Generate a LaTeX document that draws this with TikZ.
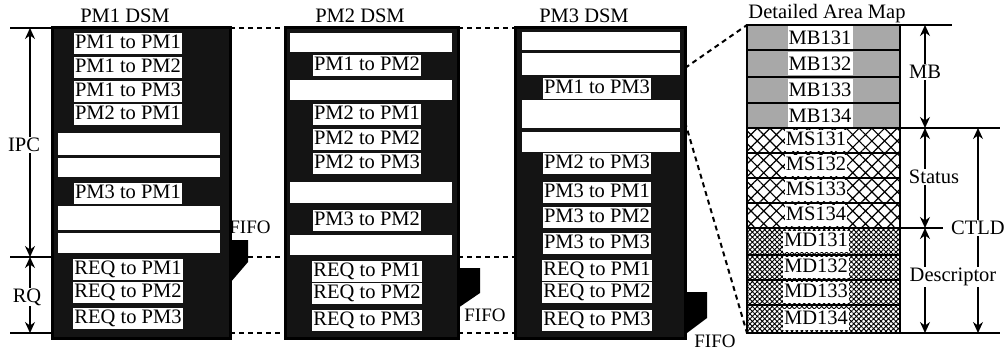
\documentclass[tikz,border=0pt]{standalone}
\usepackage{fontspec}
\setmainfont{Liberation Serif}
\usetikzlibrary{arrows.meta,patterns.meta}
\definecolor{ink}{HTML}{000000}
\definecolor{dsmdark}{HTML}{141414}
\definecolor{mbgray}{HTML}{A8A8A8}
\newcommand\dfont{\fontsize{20.5}{22}\selectfont}

\begin{document}
\begin{tikzpicture}[
  x=1pt, y=-1pt, font=\dfont,
  dsm/.style={draw=ink, line width=3pt, fill=dsmdark, inner sep=0pt, outer sep=0pt, minimum height=311pt},
  slot/.style={fill=white},
  entry/.style={fill=white, text=ink, inner sep=1pt, text height=14.5pt, text depth=4.5pt},
  mbentry/.style={fill=white, text=ink, inner sep=0pt, minimum width=65pt, minimum height=23pt},
  title/.style={anchor=base, text=ink},
  tab/.style={fill=ink},
  fifo/.style={text=ink, font=\fontsize{19}{21}\selectfont},
  gap/.style={draw=ink, dash pattern=on 5pt off 4pt, line width=1.3pt},
  zoomline/.style={draw=ink, dash pattern=on 5pt off 4pt, line width=2pt},
  ext/.style={draw=ink, line width=1.4pt},
  dim/.style={{Stealth[length=11pt,width=10pt]}-{Stealth[length=11pt,width=10pt]}, draw=ink, line width=1.4pt},
  dimlabel/.style={fill=white, text=ink, inner sep=1pt},
  rowline/.style={draw=ink, line width=1.8pt}
]
\useasboundingbox (0,0) rectangle (1007,351);

% DSM columns
\node[dsm, minimum width=178pt] (pm1) at (141,182.5) {};
\node[dsm, minimum width=173pt] (pm2) at (371.5,182.5) {};
\node[dsm, minimum width=170pt] (pm3) at (600,182.5) {};
\node[title] (t1) at (125,22) {PM1 DSM};
\node[title] (t2) at (360,22) {PM2 DSM};
\node[title] (t3) at (584,22) {PM3 DSM};

% empty slots
\foreach \a/\b in {133/155, 158/177, 206/230, 233/253}
  \fill[slot] (58,\a) rectangle (220,\b);
\foreach \a/\b in {33/52, 80/100, 182/203, 235/255}
  \fill[slot] (290,\a) rectangle (452,\b);
\foreach \a/\b in {32/50, 53/75, 100/128, 132/152}
  \fill[slot] (522,\a) rectangle (680,\b);

% queue entries
\foreach \y/\t [count=\i] in {43/PM1 to PM1, 67/PM1 to PM2, 91/PM1 to PM3, 114/PM2 to PM1,
    193/PM3 to PM1, 269/REQ to PM1, 292.5/REQ to PM2, 318/REQ to PM3}
  \node[entry] (p1r\i) at (128,\y) {\t};
\foreach \y/\t [count=\i] in {65/PM1 to PM2, 114/PM2 to PM1, 139/PM2 to PM2, 163/PM2 to PM3,
    220/PM3 to PM2, 271/REQ to PM1, 293/REQ to PM2, 320/REQ to PM3}
  \node[entry] (p2r\i) at (367,\y) {\t};
\foreach \y/\t [count=\i] in {88/PM1 to PM3, 163/PM2 to PM3, 192.5/PM3 to PM1, 217/PM3 to PM2,
    243/PM3 to PM3, 270/REQ to PM1, 292/REQ to PM2, 320/REQ to PM3}
  \node[entry] (p3r\i) at (597,\y) {\t};

% FIFO tabs
\fill[tab] (230,240) -- (248,240) -- (248,262) -- (230,283) -- cycle;
\fill[tab] (458,268) -- (480,268) -- (480,293) -- (458,308) -- cycle;
\fill[tab] (685,292) -- (707,292) -- (707,318) -- (687,333) -- cycle;
\node[fifo] (f1) at (250,227) {FIFO};
\node[fifo] (f2) at (485,315) {FIFO};
\node[fifo] (f3) at (715,341) {FIFO};

% IPC / RQ split
\coordinate (ipctop) at (10,28);
\coordinate (rqtop) at (10,257);
\coordinate (rqbot) at (10,333);
\foreach \c in {ipctop, rqtop, rqbot} {
  \draw[ext] (\c) -- (pm1.west |- \c);
  \draw[gap] (pm1.east |- \c) -- (pm2.west |- \c);
  \draw[gap] (pm2.east |- \c) -- (pm3.west |- \c);
}
\coordinate (ipca) at (30,28);
\coordinate (ipcb) at (30,257);
\coordinate (rqb) at (30,333);
\draw[dim] (ipca) -- (ipcb);
\draw[dim] (ipcb) -- (rqb);
\node[dimlabel] (ipc) at (24,145) {IPC};
\node[dimlabel] (rq) at (27,297) {RQ};

% detailed area map
\node[inner sep=0pt, outer sep=0pt, minimum width=153pt, minimum height=308pt] (map) at (823.5,179) {};
\node[title] (tmap) at (827,18) {Detailed Area Map};
\fill[mbgray] (747,25) rectangle (900,128);
\fill[pattern={Hatch[angle=45,distance=9pt,line width=1.2pt]}] (747,128) rectangle (900,228);
\fill[pattern={Hatch[angle=45,distance=3.5pt,line width=0.9pt]}] (747,228) rectangle (900,333);
\foreach \y in {50,77,103,128,153,178,203,228,255,280,305}
  \draw[rowline] (map.west |- 0,\y) -- (map.east |- 0,\y);
\foreach \y/\t [count=\i] in {37.5/MB131, 63.5/MB132, 90/MB133, 115.5/MB134}
  \node[mbentry] (mb\i) at (820,\y) {\t};
\foreach \y/\t [count=\i] in {140.5/MS131, 165.5/MS132, 190.5/MS133, 215.5/MS134}
  \node[entry] (ms\i) at (816,\y) {\t};
\foreach \y/\t [count=\i] in {241.5/MD131, 267.5/MD132, 292.5/MD133, 319/MD134}
  \node[entry] (md\i) at (816,\y) {\t};
\draw[draw=ink, line width=2.2pt] (map.north west) rectangle (map.south east);

% zoom lines
\coordinate (za) at (685,68);
\coordinate (zb) at (685,122);
\draw[zoomline] (za) -- (map.north west);
\draw[zoomline] (zb) -- (map.south west);

% map dimensions
\coordinate (mbtop) at (925,25);
\coordinate (mbbot) at (925,128);
\coordinate (stbot) at (925,228);
\coordinate (dsbot) at (925,333);
\coordinate (cttop) at (978,128);
\coordinate (ctbot) at (978,333);
\draw[ext] (map.north east) -- (952,25);
\draw[ext] (map.east |- mbbot) -- (1000,128);
\draw[ext] (map.east |- stbot) -- (943,228);
\draw[ext] (map.south east) -- (1000,333);
\draw[dim] (mbtop) -- (mbbot);
\draw[dim] (mbbot) -- (stbot);
\draw[dim] (stbot) -- (dsbot);
\draw[dim] (cttop) -- (ctbot);
\node[dimlabel] (mb) at (925,72) {MB};
\node[dimlabel] (status) at (934,177) {Status};
\node[dimlabel] (ctld) at (978,228) {CTLD};
\node[dimlabel] (desc) at (953,277) {Descriptor};
\end{tikzpicture}
\end{document}
